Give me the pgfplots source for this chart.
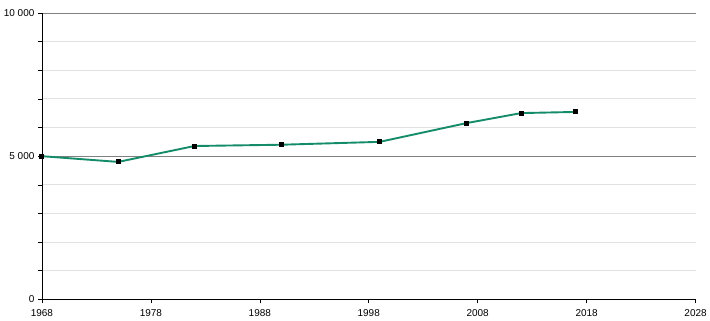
\documentclass[border=0pt]{standalone}
\usepackage{pgfplots}
\pgfplotsset{compat=1.18}
\usepackage{fontspec}
\setmainfont{Liberation Sans}
\definecolor{linegreen}{RGB}{20,140,105}
\definecolor{majgrid}{RGB}{128,128,128}
\definecolor{mingrid}{RGB}{225,225,225}
\begin{document}
\begin{tikzpicture}[x=1pt,y=1pt]
\begin{axis}[
  name=ax,
  scale only axis,
  width=655pt, height=287pt,
  xmin=1968, xmax=2028,
  ymin=0, ymax=10000,
  axis lines*=left,
  axis line style={black, line width=0.8pt, -},
  xtick={1968,1978,...,2028},
  ytick={0,5000,10000},
  minor ytick={1000,2000,3000,4000,6000,7000,8000,9000},
  tick align=outside,
  major tick length=4pt,
  minor tick length=4pt,
  tick style={black, line width=0.6pt},
  ymajorgrids, yminorgrids,
  major grid style={majgrid, line width=0.8pt},
  minor grid style={mingrid, line width=0.8pt},
  xticklabel style={/pgf/number format/1000 sep=, font=\fontsize{10}{12}\selectfont, yshift=-3pt},
  yticklabel style={/pgf/number format/1000 sep={\ }, font=\fontsize{10}{12}\selectfont},
  /pgf/number format/assume math mode=true,
  scaled y ticks=false,
  clip=false,
]
\addplot[linegreen, line width=1.9pt, mark=square*, mark size=2pt, mark options={black, fill=black, line width=0pt}]
coordinates {
(1968,5000) (1975,4800) (1982,5355) (1990,5400) (1999,5500) (2007,6157) (2012,6505) (2017,6545)
};
\end{axis}
\path (ax.south west) ++(-42pt,-20pt) coordinate (bl);
\path (ax.north east) ++(13pt,13pt) coordinate (tr);
\path (bl) rectangle (tr);
\end{tikzpicture}
\end{document}
